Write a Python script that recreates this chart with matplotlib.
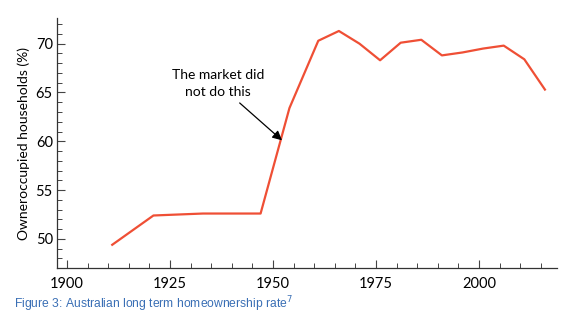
import matplotlib.pyplot as plt
from matplotlib.ticker import MultipleLocator

years = [1911, 1921, 1933, 1947, 1954, 1961, 1966, 1971, 1976, 1981,
         1986, 1991, 1996, 2001, 2006, 2011, 2016]
rate = [49.4, 52.4, 52.6, 52.6, 63.4, 70.3, 71.3, 70.0, 68.3, 70.1,
        70.4, 68.8, 69.1, 69.5, 69.8, 68.4, 65.3]

plt.rcParams['font.family'] = ['Lato', 'DejaVu Sans']

fig = plt.figure(figsize=(5.86, 3.21), dpi=100)
ax = fig.add_axes([0.0973, 0.166, 0.853, 0.777])

ax.plot(years, rate, color='#ef4f35', linewidth=1.6)

ax.set_xlim(1897.6, 2018.9)
ax.set_ylim(47.05, 72.6)
ax.xaxis.set_major_locator(MultipleLocator(25))
ax.xaxis.set_minor_locator(MultipleLocator(5))
ax.yaxis.set_major_locator(MultipleLocator(5))
ax.yaxis.set_minor_locator(MultipleLocator(1))

for s in ['top', 'right']:
    ax.spines[s].set_visible(False)
for s in ['left', 'bottom']:
    ax.spines[s].set_color('#333333')
    ax.spines[s].set_linewidth(0.9)

ax.tick_params(which='major', direction='in', length=6, width=0.8,
               color='#444444', labelsize=10.5)
ax.tick_params(which='minor', direction='in', length=3.5, width=0.7,
               color='#444444')
ax.tick_params(axis='x', which='major', pad=7)
ax.tick_params(axis='y', which='major', pad=3)
ax.set_ylabel('Owneroccupied households (%)', fontsize=10, labelpad=4)

ax.annotate('The market did\nnot do this', xy=(1952.2, 60.1), xytext=(1936.6, 64.4),
            ha='center', va='bottom', fontsize=10, linespacing=1.55,
            arrowprops=dict(arrowstyle='-|>', color='black', lw=0.9,
                            mutation_scale=14, shrinkA=2, shrinkB=0))

fig.text(0.024, 0.04, 'Figure 3: Australian long term homeownership rate$^7$',
         color='#3a6fb5', fontsize=8.7, family='Liberation Sans')

fig.savefig('out.png', dpi=100)
